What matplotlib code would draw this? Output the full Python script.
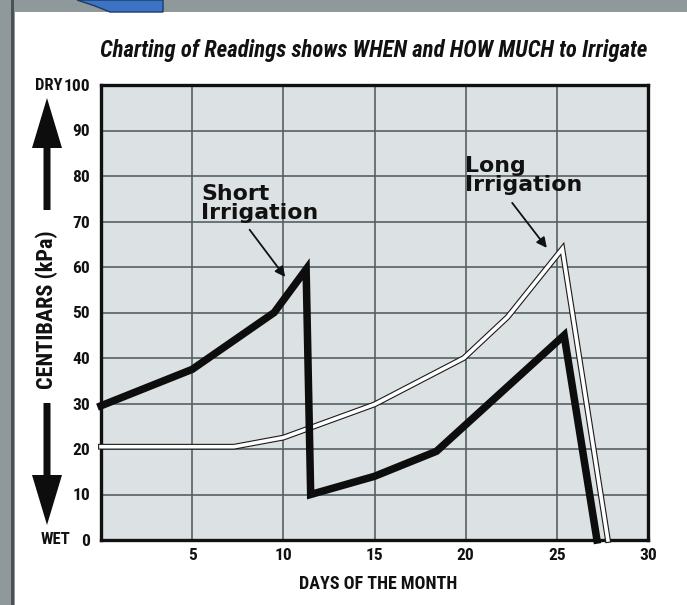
import matplotlib
matplotlib.use("Agg")
import matplotlib.pyplot as plt
import matplotlib.patheffects as pe
from matplotlib.patches import Polygon, Rectangle
from matplotlib import font_manager

# ---------------- data ----------------
short_days = [0, 5, 9.5, 11.25, 11.5, 15, 18.4, 25.4, 27.2]
short_vals = [29.5, 37.5, 50, 59.5, 10, 14, 19.5, 45, 0]

long_days = [0, 7.3, 10, 15, 19.9, 22.3, 25.3, 27.8]
long_vals = [20.5, 20.5, 22.5, 29.8, 40, 49, 64, 0]

x_ticks = [5, 10, 15, 20, 25, 30]
y_ticks = [0, 10, 20, 30, 40, 50, 60, 70, 80, 90, 100]

title = "Charting of Readings shows WHEN and HOW MUCH to Irrigate"
x_label = "DAYS OF THE MONTH"
y_label = "CENTIBARS (kPa)"
short_label = "Short\nIrrigation"
long_label = "Long\nIrrigation"

# ---------------- fonts ----------------
avail = {f.name for f in font_manager.fontManager.ttflist}
def pick(*names):
    for n in names:
        if n in avail:
            return n
    return "DejaVu Sans"
narrow = pick("Liberation Sans Narrow", "Roboto Condensed", "DejaVu Sans")
wide = pick("DejaVu Sans")

W, H = 687, 605
fig = plt.figure(figsize=(W / 100, H / 100), dpi=100, facecolor="#8f999b")

def px(x, y):
    return (x / W, 1 - y / H)

# white card & decorative blue tab
fig.add_artist(Rectangle((15 / W, 0), 1 - 15 / W, 1 - 12 / H, transform=fig.transFigure,
                         facecolor="white", edgecolor="none", zorder=-10))
fig.add_artist(Rectangle((11 / W, 0), 3 / W, 1, transform=fig.transFigure,
                         facecolor="#4a5254", edgecolor="none", zorder=-10))
fig.add_artist(Polygon([px(77, 0), px(95, 6), px(110, 12), px(163, 12), px(163, 0)],
                       closed=True, transform=fig.transFigure,
                       facecolor="#3d73c4", edgecolor="#1e3a66", lw=1, zorder=-9))

ax = fig.add_axes([101 / W, 1 - 540 / H, (648 - 101) / W, (540 - 85) / H])
ax.set_zorder(1)
ax.set_facecolor("#dce2e3")
ax.set_xlim(0, 30)
ax.set_ylim(0, 100)

ax.set_xticks(x_ticks)
ax.set_yticks(y_ticks)
ax.tick_params(length=0, pad=8)
for lab in ax.get_xticklabels() + ax.get_yticklabels():
    lab.set_fontfamily(narrow)
    lab.set_fontweight("bold")
    lab.set_fontsize(12.5)
    lab.set_color("#111111")
ax.tick_params(axis="x", pad=6)

for v in [5, 10, 15, 20, 25]:
    ax.axvline(v, color="#566062", lw=1.2, zorder=1)
for v in [10, 20, 30, 40, 50, 60, 70, 80, 90]:
    ax.axhline(v, color="#566062", lw=1.2, zorder=1)

for s in ax.spines.values():
    s.set_linewidth(2.4)
    s.set_color("#111111")

# long irrigation (white line with dark outline)
ax.plot(long_days, long_vals, color="white", lw=2.6, zorder=3, clip_on=False,
        solid_joinstyle="miter",
        path_effects=[pe.Stroke(linewidth=4.2, foreground="#1a1a1a"), pe.Normal()])
# short irrigation (heavy black line)
ax.plot(short_days, short_vals, color="#0d0d0d", lw=5.4, zorder=4, clip_on=False,
        solid_joinstyle="miter")

# annotations
ann_kw = dict(ha="left", va="bottom", fontsize=15.8, fontweight="heavy", family=wide,
              color="#111111", linespacing=0.92)
ax.text(5.5, 69.7, short_label, **ann_kw)
ax.text(19.95, 75.8, long_label, **ann_kw)
arrow_kw = dict(arrowstyle="-|>", color="#111111", lw=1.3, mutation_scale=15,
                shrinkA=0, shrinkB=0)
ax.annotate("", xy=(10.1, 57.8), xytext=(8.15, 68.2), arrowprops=arrow_kw,
            annotation_clip=False)
ax.annotate("", xy=(24.45, 64.2), xytext=(22.55, 74.1), arrowprops=arrow_kw,
            annotation_clip=False)

# title and axis labels
fig.text(374 / W, 1 - 50 / H, title, ha="center", va="center",
         fontsize=16.4, fontweight="bold", style="italic", family=narrow, color="#111111")
fig.text(378 / W, 1 - 584 / H, x_label, ha="center", va="center",
         fontsize=13, fontweight="bold", family=narrow, color="#111111")
fig.text(47 / W, 1 - 310 / H, y_label, ha="center", va="center", rotation=90,
         fontsize=16, fontweight="bold", family=narrow, color="#111111")
fig.text(62 / W, 1 - 86 / H, "DRY", ha="right", va="center",
         fontsize=12, fontweight="bold", family=narrow, color="#111111")
fig.text(70 / W, 1 - 539 / H, "WET", ha="right", va="center",
         fontsize=12, fontweight="bold", family=narrow, color="#111111")

# big direction arrows
up = [px(47, 98), px(62, 148), px(50.5, 148), px(50.5, 210), px(43.5, 210),
      px(43.5, 148), px(32, 148)]
down = [px(47, 525), px(62, 475), px(50.5, 475), px(50.5, 403), px(43.5, 403),
        px(43.5, 475), px(32, 475)]
for pts in (up, down):
    fig.add_artist(Polygon(pts, closed=True, transform=fig.transFigure,
                           facecolor="#0d0d0d", edgecolor="none", zorder=2))

fig.savefig("out.png", dpi=100, facecolor=fig.get_facecolor())
